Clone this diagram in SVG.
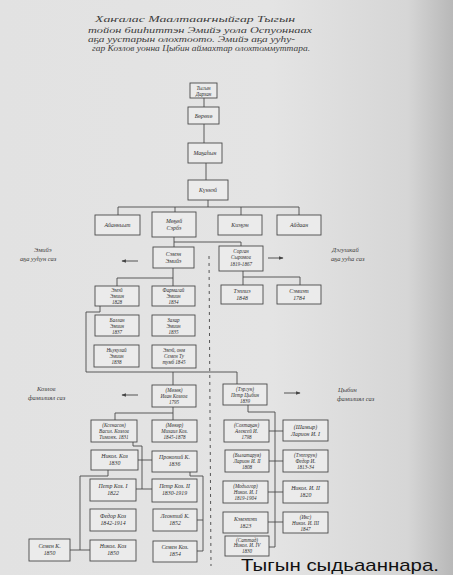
<svg xmlns="http://www.w3.org/2000/svg" width="453" height="575" viewBox="0 0 453 575">
<defs>
<linearGradient id="paper" x1="0" y1="0" x2="1" y2="0">
<stop offset="0" stop-color="#e2e2e2"/>
<stop offset="0.6" stop-color="#e4e4e4"/>
<stop offset="0.9" stop-color="#d6d6d6"/>
<stop offset="1" stop-color="#b8b8b8"/>
</linearGradient>
<marker id="ah" viewBox="0 0 8 8" refX="7" refY="4" markerWidth="5" markerHeight="5" orient="auto">
<path d="M0,1 L8,4 L0,7 Z" fill="#444"/>
</marker>
<style>
.b{fill:#ebebeb;stroke:#4a4a4a;stroke-width:0.9}
.t{font-family:"Liberation Serif",serif;font-style:italic;font-size:5.8px;fill:#2e2e2e;text-anchor:middle}
.s{font-size:5.1px}
.h{font-family:"Liberation Serif",serif;font-style:italic;font-size:8.5px;fill:#3c3c3c}
.a{font-family:"Liberation Serif",serif;font-style:italic;font-size:6.5px;fill:#3c3c3c}
.c{fill:none;stroke:#4a4a4a;stroke-width:0.9}
.d{fill:none;stroke:#555;stroke-width:1;stroke-dasharray:3 4}
.ar{fill:none;stroke:#444;stroke-width:0.9;marker-end:url(#ah)}
</style>
</defs>
<rect width="453" height="575" fill="url(#paper)"/>

<g id="title">
<text class="h" x="95" y="22" textLength="200" lengthAdjust="spacingAndGlyphs">Хаҥалас Маалтааҥныйгар Тыгын</text>
<text class="h" x="88" y="33" textLength="224" lengthAdjust="spacingAndGlyphs">тойон бииһиттэн Эмийэ уола Оспуоннаах</text>
<text class="h" x="88" y="42" textLength="207" lengthAdjust="spacingAndGlyphs">аҕа уустарын олохтоото. Эмийэ аҕа ууһу-</text>
<text class="h" x="92" y="51" textLength="218" lengthAdjust="spacingAndGlyphs">гар Козлов уонна Цыбин аймахтар олохтоммуттара.</text>
</g>

<g id="annotations">
<text class="a" x="34" y="252">Эмийэ</text>
<text class="a" x="20" y="261">аҕа ууһун саз</text>
<text class="a" x="332" y="252">Дэгушкай</text>
<text class="a" x="331" y="261">аҕа ууһа саз</text>
<text class="a" x="37" y="391">Козлов</text>
<text class="a" x="28" y="400">фамилиял саз</text>
<text class="a" x="338" y="392">Цыбин</text>
<text class="a" x="337" y="401">фамилиял саз</text>
</g>

<g id="connectors">
<path class="c" d="M204,98 V107"/>
<path class="c" d="M204,124 V143"/>
<path class="c" d="M206,163 V180"/>
<path class="c" d="M208,200 V207 M118,215 V207 H299 V215 M175,207 V212 M241,207 V215"/>
<path class="c" d="M174,237 V247 M174,242 H241 V246"/>
<path class="c" d="M173,268 V286 M173,278 H117 V286"/>
<path class="c" d="M243,271 V285 M243,277 H300 V285"/>
<path class="c" d="M100,306 V312 H86 V372 H237 V384 M173,372 V385"/>
<path class="c" d="M173,407 V420 M173,413 H115 V420"/>
<path class="c" d="M133,442 V446 H142 V489 M138,460 H152 M136,489 H152"/>
<path class="c" d="M108,470 V476 H80 V550 M70,550 H90"/>
<path class="c" d="M190,472 V476 H203 V551 M197,520 H203 M197,551 H203"/>
<path class="c" d="M248,405 V412 H275 V547 M269,431 H283 M269,461 H283 M268,492 H283 M268,522 H283 M269,547 H275"/>
<path class="d" d="M209,256 L211,566"/>
<path class="ar" d="M138,261 H122"/>
<path class="ar" d="M268,258 H283"/>
<path class="ar" d="M138,395 H122"/>
<path class="ar" d="M284,393 H300"/>
</g>

<g id="tygyn"><rect class="b" x="190" y="83" width="27" height="15"/><text class="t s" x="203.5" y="89.5">Тыгын<tspan x="203.5" dy="6">Дархан</tspan></text></g>
<g id="borokho"><rect class="b" x="188" y="107" width="31" height="17"/><text class="t" x="203.5" y="117.5">Бөрөхө</text></g>
<g id="magahyn"><rect class="b" x="188" y="143" width="34" height="20"/><text class="t" x="205" y="155">Маҕаһын</text></g>
<g id="kunnei"><rect class="b" x="188" y="180" width="40" height="20"/><text class="t" x="208" y="192">Күннэй</text></g>
<g id="ayannyyt"><rect class="b" x="95" y="215" width="45" height="20"/><text class="t" x="117.5" y="227">Айанньыт</text></g>
<g id="mogoi"><rect class="b" x="152" y="212" width="44" height="25"/><text class="t" x="174" y="222.5">Мөҕөй<tspan x="174" dy="7.5">Сэрбэ</tspan></text></g>
<g id="kiehen"><rect class="b" x="218" y="215" width="44" height="20"/><text class="t" x="240" y="227">Киэҕэн</text></g>
<g id="aidaan"><rect class="b" x="277" y="215" width="44" height="20"/><text class="t" x="299" y="227">Айдаан</text></g>
<g id="semen"><rect class="b" x="153" y="247" width="41" height="21"/><text class="t" x="173.5" y="255.5">Сэмэн<tspan x="173.5" dy="7">Эмийэ</tspan></text></g>
<g id="sorgan"><rect class="b" x="219" y="246" width="44" height="25"/><text class="t s" x="241" y="253">Сорган<tspan x="241" dy="6.3">Сыромов</tspan><tspan x="241" dy="6.3">1819-1867</tspan></text></g>
<g id="teppie"><rect class="b" x="221" y="285" width="42" height="19"/><text class="t" x="242" y="292.5">Тэппиэ<tspan x="242" dy="7">1848</tspan></text></g>
<g id="semiet"><rect class="b" x="277" y="285" width="44" height="19"/><text class="t" x="299" y="292.5">Сэмиэт<tspan x="299" dy="7">1784</tspan></text></g>
<g id="emei"><rect class="b" x="95" y="286" width="44" height="20"/><text class="t s" x="117" y="292">Эмэй<tspan x="117" dy="6">Эмиин</tspan><tspan x="117" dy="6">1828</tspan></text></g>
<g id="farmagai"><rect class="b" x="152" y="286" width="43" height="20"/><text class="t s" x="173.5" y="292">Фармагай<tspan x="173.5" dy="6">Эмиин</tspan><tspan x="173.5" dy="6">1834</tspan></text></g>
<g id="ballan"><rect class="b" x="95" y="315" width="44" height="21"/><text class="t s" x="117" y="321.5">Баллан<tspan x="117" dy="6">Эмиин</tspan><tspan x="117" dy="6">1837</tspan></text></g>
<g id="zakhar"><rect class="b" x="152" y="315" width="43" height="21"/><text class="t s" x="173.5" y="321.5">Захар<tspan x="173.5" dy="6">Эмиин</tspan><tspan x="173.5" dy="6">1835</tspan></text></g>
<g id="nikolai-emiin"><rect class="b" x="94" y="345" width="45" height="22"/><text class="t s" x="116.5" y="351.5">Ньукулай<tspan x="116.5" dy="6.3">Эмиин</tspan><tspan x="116.5" dy="6.3">1838</tspan></text></g>
<g id="emei-semen"><rect class="b" x="152" y="345" width="44" height="23"/><text class="t s" x="174" y="351.5">Эмэй, онм<tspan x="174" dy="6.3">Семен Ту</tspan><tspan x="174" dy="6.3">тумб 1845</tspan></text></g>
<g id="kozlov"><rect class="b" x="152" y="385" width="44" height="22"/><text class="t s" x="174" y="391.5">(Мөзөк)<tspan x="174" dy="6.3">Иван Козлов</tspan><tspan x="174" dy="6.3">1795</tspan></text></g>
<g id="tsybin"><rect class="b" x="223" y="384" width="44" height="21"/><text class="t s" x="245" y="390.5">(Тэргун)<tspan x="245" dy="6.2">Петр Цыбин</tspan><tspan x="245" dy="6.2">1839</tspan></text></g>
<g id="ksenason"><rect class="b" x="91" y="420" width="46" height="22"/><text class="t s" x="114" y="426.5">(Ксенасон)<tspan x="114" dy="6.3">Васил. Козлов</tspan><tspan x="114" dy="6.3">Тимоҥк. 1831</tspan></text></g>
<g id="mokor"><rect class="b" x="152" y="420" width="45" height="22"/><text class="t s" x="174.5" y="426.5">(Мөкөр)<tspan x="174.5" dy="6.3">Михаил Коз.</tspan><tspan x="174.5" dy="6.3">1845-1878</tspan></text></g>
<g id="nikol-koz-1830"><rect class="b" x="91" y="450" width="47" height="20"/><text class="t" x="114.5" y="458">Никол. Коз<tspan x="114.5" dy="7">1830</tspan></text></g>
<g id="prokopii"><rect class="b" x="152" y="451" width="45" height="21"/><text class="t" x="174.5" y="459">Прокопий К.<tspan x="174.5" dy="7">1836</tspan></text></g>
<g id="petr-1"><rect class="b" x="90" y="479" width="46" height="22"/><text class="t" x="113" y="487.5">Петр Коз. I<tspan x="113" dy="7">1822</tspan></text></g>
<g id="petr-2"><rect class="b" x="152" y="479" width="45" height="23"/><text class="t" x="174.5" y="488">Петр Коз. II<tspan x="174.5" dy="7">1830-1919</tspan></text></g>
<g id="fedor"><rect class="b" x="90" y="509" width="46" height="22"/><text class="t" x="113" y="517.5">Федор Коз<tspan x="113" dy="7">1842-1914</tspan></text></g>
<g id="leontii"><rect class="b" x="153" y="509" width="44" height="22"/><text class="t" x="175" y="517.5">Леонтий К.<tspan x="175" dy="7">1852</tspan></text></g>
<g id="semen-k"><rect class="b" x="29" y="539" width="41" height="22"/><text class="t" x="49.5" y="547.5">Семен К.<tspan x="49.5" dy="7">1850</tspan></text></g>
<g id="nikol-koz-1850"><rect class="b" x="90" y="540" width="46" height="21"/><text class="t" x="113" y="548">Никол. Коз<tspan x="113" dy="7">1850</tspan></text></g>
<g id="semen-koz"><rect class="b" x="153" y="541" width="44" height="21"/><text class="t" x="175" y="549">Семен Коз.<tspan x="175" dy="7">1854</tspan></text></g>
<g id="sokhtagan"><rect class="b" x="224" y="420" width="45" height="22"/><text class="t s" x="246.5" y="426.5">(Сохтаҕан)<tspan x="246.5" dy="6.3">Алексей И.</tspan><tspan x="246.5" dy="6.3">1798</tspan></text></g>
<g id="shamyr"><rect class="b" x="283" y="420" width="45" height="21"/><text class="t" x="305.5" y="428.5">(Шамыр)<tspan x="305.5" dy="7">Ларион И. I</tspan></text></g>
<g id="bylataruya"><rect class="b" x="225" y="450" width="44" height="22"/><text class="t s" x="247" y="456.5">(Былатаруя)<tspan x="247" dy="6.3">Ларион И. II</tspan><tspan x="247" dy="6.3">1808</tspan></text></g>
<g id="tepperun"><rect class="b" x="283" y="450" width="45" height="22"/><text class="t s" x="305.5" y="456.5">(Тэппэрун)<tspan x="305.5" dy="6.3">Федор И.</tspan><tspan x="305.5" dy="6.3">1813-34</tspan></text></g>
<g id="modyogor"><rect class="b" x="223" y="481" width="45" height="22"/><text class="t s" x="245.5" y="487.5">(Модьогор)<tspan x="245.5" dy="6.3">Никол. И. I</tspan><tspan x="245.5" dy="6.3">1819-1904</tspan></text></g>
<g id="nikol-2"><rect class="b" x="283" y="481" width="45" height="22"/><text class="t" x="305.5" y="490">Никол. И. II<tspan x="305.5" dy="7">1820</tspan></text></g>
<g id="kemetet"><rect class="b" x="223" y="512" width="45" height="21"/><text class="t" x="245.5" y="520.5">Кэмэтэт<tspan x="245.5" dy="7">1823</tspan></text></g>
<g id="iks"><rect class="b" x="283" y="512" width="45" height="21"/><text class="t s" x="305.5" y="518.5">(Икс)<tspan x="305.5" dy="6.2">Никол. И. III</tspan><tspan x="305.5" dy="6.2">1847</tspan></text></g>
<g id="sattad"><rect class="b" x="225" y="536" width="44" height="20"/><text class="t s" x="247" y="541.5" font-size="4.9px">(Саттад)<tspan x="247" dy="5.5">Никол. И. IV</tspan><tspan x="247" dy="5.5">1830</tspan></text></g>

<text x="241" y="571.3" font-family="Liberation Sans, sans-serif" font-size="17" fill="#111" textLength="198" lengthAdjust="spacingAndGlyphs">Тыгын сыдьааннара.</text>
</svg>
